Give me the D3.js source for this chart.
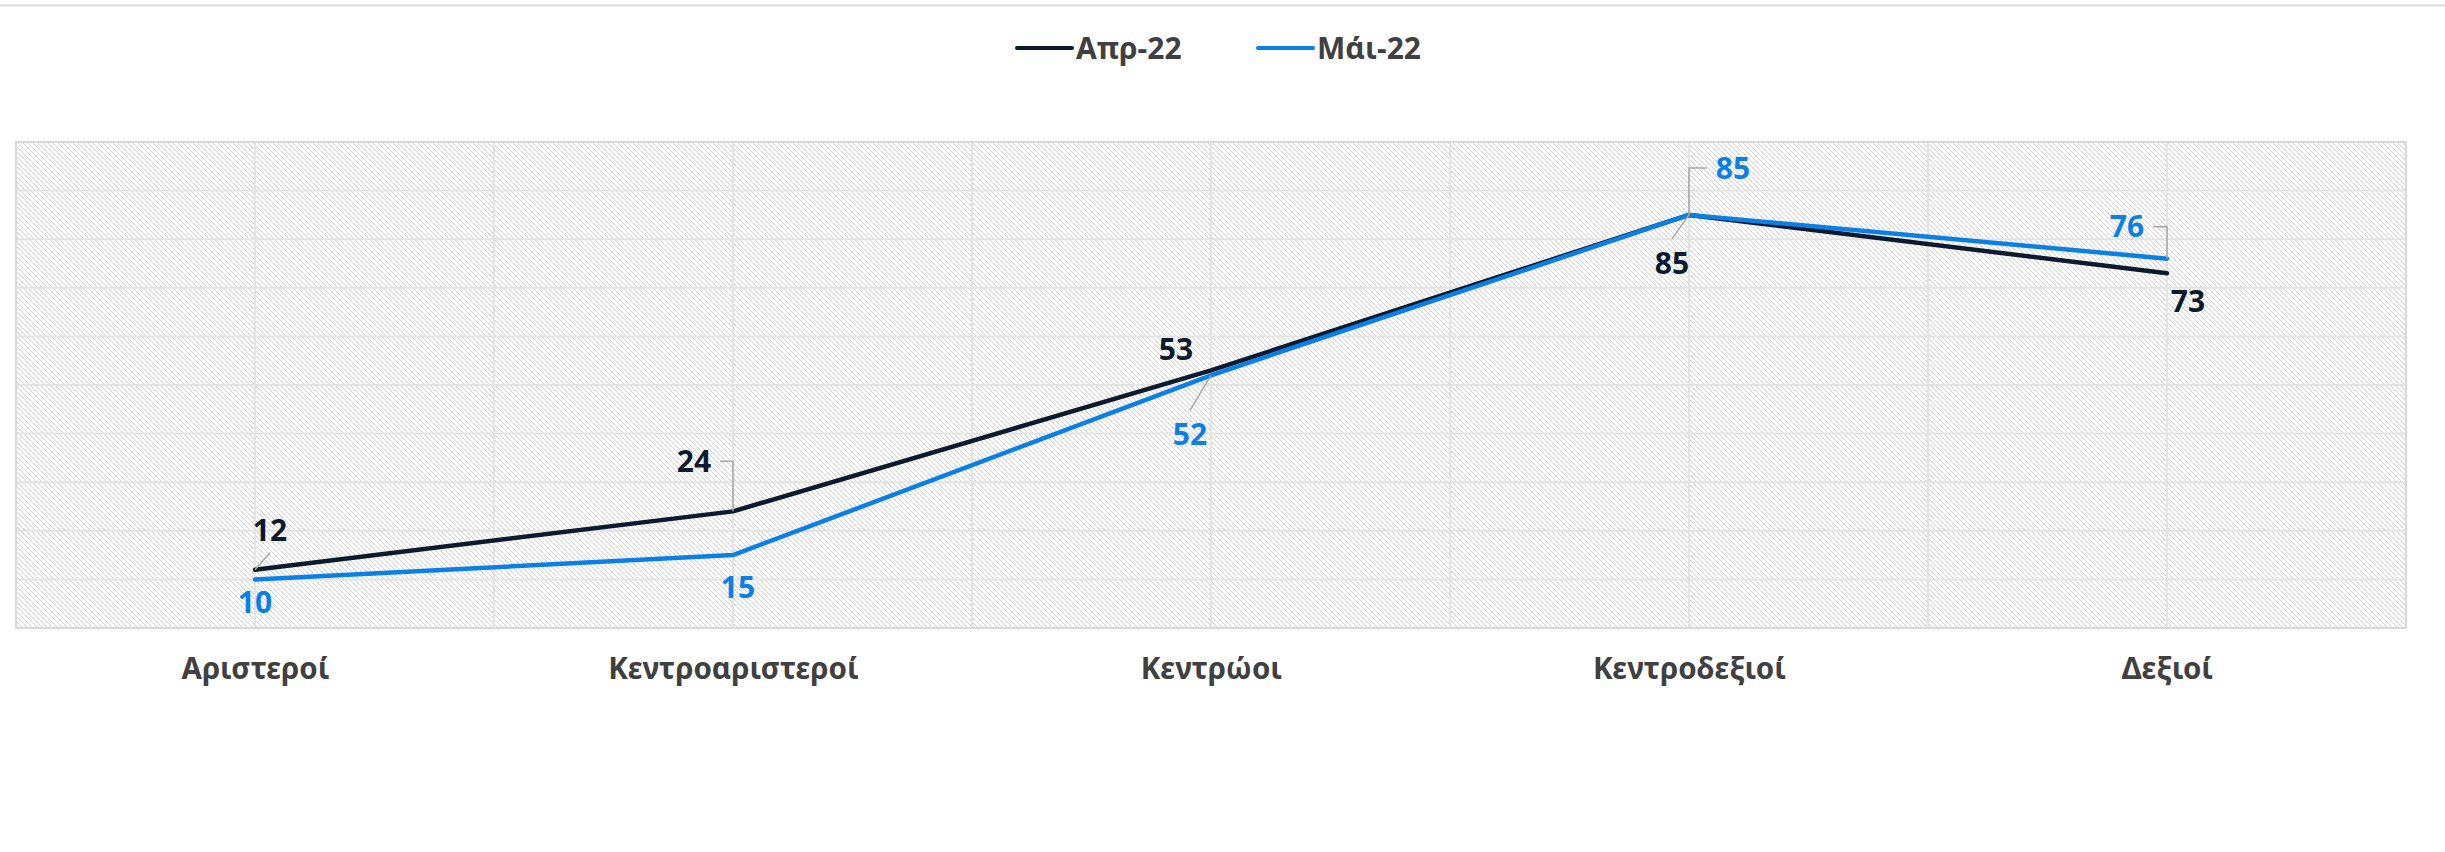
<!DOCTYPE html>
<html>
<head>
<meta charset="utf-8">
<script src="https://cdn.jsdelivr.net/npm/d3@7/dist/d3.min.js"></script>
<style>
  body { margin: 0; background: #fff; }
  svg { display: block; font-family: "Noto Sans", "DejaVu Sans", sans-serif; }
</style>
</head>
<body>
<div id="chart"></div>
<script>
// data
var categories = ["Αριστεροί", "Κεντροαριστεροί", "Κεντρώοι", "Κεντροδεξιοί", "Δεξιοί"];
var seriesNames = ["Απρ-22", "Μάι-22"];
var apr22 = [12, 24, 53, 85, 73];
var mai22 = [10, 15, 52, 85, 76];
var yTicks = [0, 10, 20, 30, 40, 50, 60, 70, 80, 90, 100];

// label placement relative to the point: [dx, dy, leader]
var aprLabelPos = [[15, -39, "line"], [-39, -50, "elbow"], [-35, -21, "none"], [-17, 48, "line"], [21, 28, "none"]];
var maiLabelPos = [[0, 23, "none"], [5, 32, "none"], [-21, 59, "line"], [44, -47, "elbow"], [-40, -32, "elbow"]];

var colors = ["#0c1a30", "#0a7fe6"];

var width = 2445, height = 852;
var plot = {left: 16, right: 2406, top: 142, bottom: 628};

var svg = d3.select("#chart").append("svg")
    .attr("width", width)
    .attr("height", height);

var defs = svg.append("defs");
var pattern = defs.append("pattern")
    .attr("id", "hatch")
    .attr("patternUnits", "userSpaceOnUse")
    .attr("width", 5)
    .attr("height", 5);
pattern.append("rect")
    .attr("width", 5).attr("height", 5)
    .attr("fill", "#fff");
pattern.append("path")
    .attr("d", "M0,0 l5,5 M-1,4 l2,2 M4,-1 l2,2")
    .attr("stroke", "#d2d2d2")
    .attr("stroke-width", 1)
    .attr("shape-rendering", "crispEdges");

// top rule
svg.append("line")
    .attr("x1", 0).attr("x2", width)
    .attr("y1", 5.5).attr("y2", 5.5)
    .attr("stroke", "#dcdcdc")
    .attr("stroke-width", 2);

var x = d3.scalePoint()
    .domain(categories)
    .range([plot.left, plot.right])
    .padding(0.5);

var y = d3.scaleLinear()
    .domain([0, 100])
    .range([plot.bottom, plot.top]);

// plot background
svg.append("rect")
    .attr("x", plot.left)
    .attr("y", plot.top)
    .attr("width", plot.right - plot.left)
    .attr("height", plot.bottom - plot.top)
    .attr("fill", "url(#hatch)");

// grid
var grid = svg.append("g").attr("class", "grid");
grid.selectAll("line.h")
    .data(yTicks.slice(1, -1))
    .enter().append("line")
      .attr("class", "h")
      .attr("x1", plot.left).attr("x2", plot.right)
      .attr("y1", function(d) { return y(d); })
      .attr("y2", function(d) { return y(d); })
      .attr("stroke", "#e3e3e3")
      .attr("stroke-width", 2);

// vertical grid: at each category and between them
var half = x.step() / 2;
var vLines = [];
categories.forEach(function(c, i) {
  vLines.push(x(c));
  if (i < categories.length - 1) vLines.push(x(c) + half);
});
grid.selectAll("line.v")
    .data(vLines)
    .enter().append("line")
      .attr("class", "v")
      .attr("x1", function(d) { return d; })
      .attr("x2", function(d) { return d; })
      .attr("y1", plot.top).attr("y2", plot.bottom)
      .attr("stroke", "#e3e3e3")
      .attr("stroke-width", 2);

svg.append("rect")
    .attr("x", plot.left)
    .attr("y", plot.top)
    .attr("width", plot.right - plot.left)
    .attr("height", plot.bottom - plot.top)
    .attr("fill", "none")
    .attr("stroke", "#d9d9d9")
    .attr("stroke-width", 2);

// x axis labels
svg.append("g")
    .attr("transform", "translate(0," + plot.bottom + ")")
    .call(d3.axisBottom(x).tickSize(0).tickPadding(0))
    .call(function(g) { g.select(".domain").remove(); })
    .selectAll("text")
      .attr("dy", 0)
      .attr("y", 51)
      .attr("fill", "#404040")
      .style("font-size", "29.5px")
      .style("font-weight", "bold")
      .style("font-family", "'Noto Sans', 'DejaVu Sans', sans-serif");

// lines
var series = [
  {name: seriesNames[0], values: apr22, pos: aprLabelPos, color: colors[0]},
  {name: seriesNames[1], values: mai22, pos: maiLabelPos, color: colors[1]}
];

var line = d3.line()
    .x(function(d) { return x(d.cat); })
    .y(function(d) { return y(d.v); });

series.forEach(function(s) {
  s.points = s.values.map(function(v, i) {
    return {cat: categories[i], v: v, pos: s.pos[i]};
  });
});

svg.append("g").selectAll("path")
    .data(series)
    .enter().append("path")
      .attr("d", function(d) { return line(d.points); })
      .attr("fill", "none")
      .attr("stroke", function(d) { return d.color; })
      .attr("stroke-width", 4.5)
      .attr("stroke-linejoin", "round")
      .attr("stroke-linecap", "round");

// data labels with leader lines
var labels = svg.append("g");
series.forEach(function(s) {
  s.points.forEach(function(p) {
    var px = x(p.cat), py = y(p.v);
    var lx = px + p.pos[0], ly = py + p.pos[1];
    var leader = p.pos[2];
    var t = labels.append("text")
        .attr("x", lx)
        .attr("y", ly)
        .attr("dy", "0.36em")
        .attr("text-anchor", "middle")
        .attr("fill", s.color)
        .style("font-size", "30px")
        .style("font-weight", "bold")
        .text(p.v);
    var w = t.node().getComputedTextLength();
    var d = null;
    if (leader === "line") {
      var ey = ly + (py > ly ? 22 : -24);
      d = "M" + px + "," + py + "L" + lx + "," + ey;
    } else if (leader === "elbow") {
      var ex = lx + (px > lx ? w / 2 + 9 : -w / 2 - 9);
      d = "M" + px + "," + py + "L" + px + "," + ly + "L" + ex + "," + ly;
    }
    if (d) {
      labels.insert("path", "text")
          .attr("d", d)
          .attr("fill", "none")
          .attr("stroke", "#a6a6a6")
          .attr("stroke-width", 1.5);
    }
  });
});

// legend
var legendItems = [
  {name: seriesNames[0], color: colors[0], x: 1017},
  {name: seriesNames[1], color: colors[1], x: 1258}
];
var legend = svg.append("g").selectAll("g")
    .data(legendItems)
    .enter().append("g")
      .attr("transform", function(d) { return "translate(" + d.x + ",48)"; });
legend.append("line")
    .attr("x1", 0).attr("x2", 55)
    .attr("stroke", function(d) { return d.color; })
    .attr("stroke-width", 4)
    .attr("stroke-linecap", "round");
legend.append("text")
    .attr("x", 59)
    .attr("dy", "0.36em")
    .attr("fill", "#404040")
    .style("font-size", "30px")
    .style("font-weight", "bold")
    .text(function(d) { return d.name; });
</script>
</body>
</html>
